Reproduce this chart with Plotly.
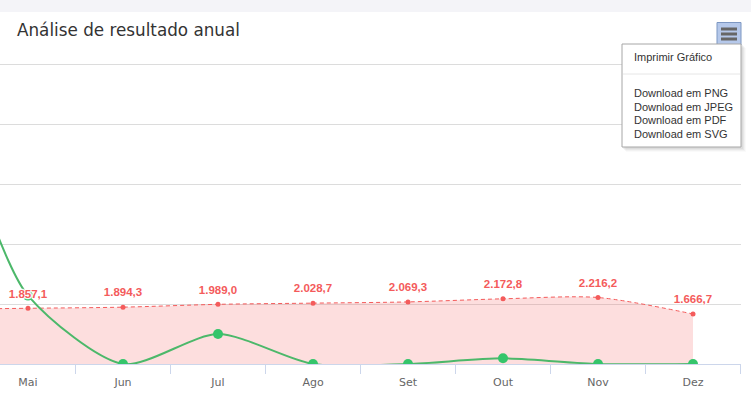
import plotly.graph_objects as go

months = ["Jan", "Fev", "Mar", "Abr", "Mai", "Jun", "Jul", "Ago", "Set", "Out", "Nov", "Dez"]
receita = [1700.0, 1750.0, 1790.0, 1820.0, 1857.1, 1894.3, 1989.0, 2028.7, 2069.3, 2172.8, 2216.2, 1666.7]
resultado = [3000, 5000, 7000, 8500, 2280, 0, 1000, 0, 0, 190, 0, 0]
# labels of the months scrolled out of view are not readable in the reference
receita_labels = ["", "", "", "", "1.857,1", "1.894,3", "1.989,0",
                  "2.028,7", "2.069,3", "2.172,8", "2.216,2", "1.666,7"]

W, H = 751, 395
L, R, T, B = 0, 10, 58, 31
PW, PH = W - L - R, H - T - B
cat_px = 95.0
first_vis = 4  # Mai
x0 = first_vis - 28 / cat_px
x1 = x0 + PW / cat_px
ymax = 10000 * PH / 300.0   # 10000 sits 300 px above the baseline

def px(x):
    return (x - L) / PW

def py(y):
    return (H - B - y) / PH

xs = list(range(len(months)))
RED = "#f45b5b"
HALO = ", ".join("%dpx %dpx 1px rgba(255,255,255,0.85)" % (a, b)
                 for a, b in [(1, 0), (-1, 0), (0, 1), (0, -1), (1, 1), (-1, -1), (1, -1), (-1, 1)])

fig = go.Figure()
fig.add_trace(go.Scatter(
    x=xs, y=receita, mode="lines+markers",
    line=dict(color=RED, width=1, dash="4px,3px", shape="spline", smoothing=0.8),
    marker=dict(color=RED, size=5), fill="tozeroy", fillcolor="rgba(244,91,91,0.2)",
    hoverinfo="skip", showlegend=False))
fig.add_trace(go.Scatter(
    x=xs, y=resultado, mode="lines+markers",
    line=dict(color="#4cb86a", width=2, shape="spline", smoothing=0.75),
    marker=dict(color="#35c56b", size=10), hoverinfo="skip", showlegend=False))
fig.add_trace(go.Scatter(
    x=xs, y=receita, mode="markers+text", text=receita_labels, textposition="top center",
    textfont=dict(family="Liberation Sans, Arial, sans-serif", size=11.5, color=RED, weight="bold",
                  shadow=HALO),
    marker=dict(size=11, color="rgba(0,0,0,0)"), hoverinfo="skip", showlegend=False, cliponaxis=True))

shapes = []
# top page band
shapes.append(dict(type="rect", xref="paper", yref="paper", x0=px(0), x1=px(W), y0=py(0), y1=py(12),
                   fillcolor="#f4f4f8", line=dict(width=0), layer="above"))
# menu button
shapes.append(dict(type="rect", xref="paper", yref="paper", x0=px(717), x1=px(741), y0=py(22.5), y1=py(45),
                   fillcolor="#b5c8ea", line=dict(color="#7d97c2", width=1)))
for ly in (29, 34, 39):
    shapes.append(dict(type="line", xref="paper", yref="paper", x0=px(721), x1=px(737), y0=py(ly), y1=py(ly),
                       line=dict(color="#666666", width=3)))
# dropdown shadow
for i, op in enumerate([0.10, 0.08, 0.06, 0.04]):
    d = i + 1
    shapes.append(dict(type="rect", xref="paper", yref="paper", x0=px(622 + d), x1=px(741 + d + 1),
                       y0=py(44 + d), y1=py(147 + d + 1), fillcolor="rgba(120,120,120,%.2f)" % op,
                       line=dict(width=0)))
shapes.append(dict(type="rect", xref="paper", yref="paper", x0=px(622), x1=px(741), y0=py(44), y1=py(147),
                   fillcolor="#ffffff", line=dict(color="#a6a6a6", width=1)))
shapes.append(dict(type="line", xref="paper", yref="paper", x0=px(623), x1=px(740), y0=py(74), y1=py(74),
                   line=dict(color="#e6e6e6", width=1)))

annotations = [dict(text="Análise de resultado anual", xref="paper", yref="paper", x=px(15), y=py(30),
                    xanchor="left", yanchor="middle", showarrow=False,
                    font=dict(family="DejaVu Sans, sans-serif", size=16.8, color="#333333"))]
menu_items = [("Imprimir Gráfico", 57), ("Download em PNG", 93), ("Download em JPEG", 106.5),
              ("Download em PDF", 120), ("Download em SVG", 134)]
for t, yy in menu_items:
    annotations.append(dict(text=t, xref="paper", yref="paper", x=px(632), y=py(yy), xanchor="left",
                            yanchor="middle", showarrow=False,
                            font=dict(family="Liberation Sans, Arial, sans-serif", size=11, color="#333333")))

fig.update_layout(
    width=W, height=H, margin=dict(l=L, r=R, t=T, b=B, pad=0),
    paper_bgcolor="#ffffff", plot_bgcolor="#ffffff",
    xaxis=dict(range=[x0, x1], tickvals=xs, ticktext=months, showgrid=False, zeroline=False,
               showline=True, linecolor="#ccd6eb", linewidth=1, ticks="", ticklabelstandoff=8,
               tickfont=dict(family="DejaVu Sans, sans-serif", size=11, color="#666666"),
               minor=dict(tick0=0.5, dtick=1, ticks="outside", ticklen=9, tickcolor="#ccd6eb",
                          tickwidth=1, showgrid=False)),
    yaxis=dict(range=[0, ymax], tickvals=[0, 2000, 4000, 6000, 8000, 10000], showgrid=True,
               gridcolor="#dcdcdc", gridwidth=1,
               zeroline=False, showticklabels=False, showline=False, ticks=""),
    shapes=shapes, annotations=annotations, showlegend=False,
)
fig.write_html("out.html", config={"displayModeBar": False},
               post_script="document.body.style.margin='0';document.body.style.overflow='hidden';")
